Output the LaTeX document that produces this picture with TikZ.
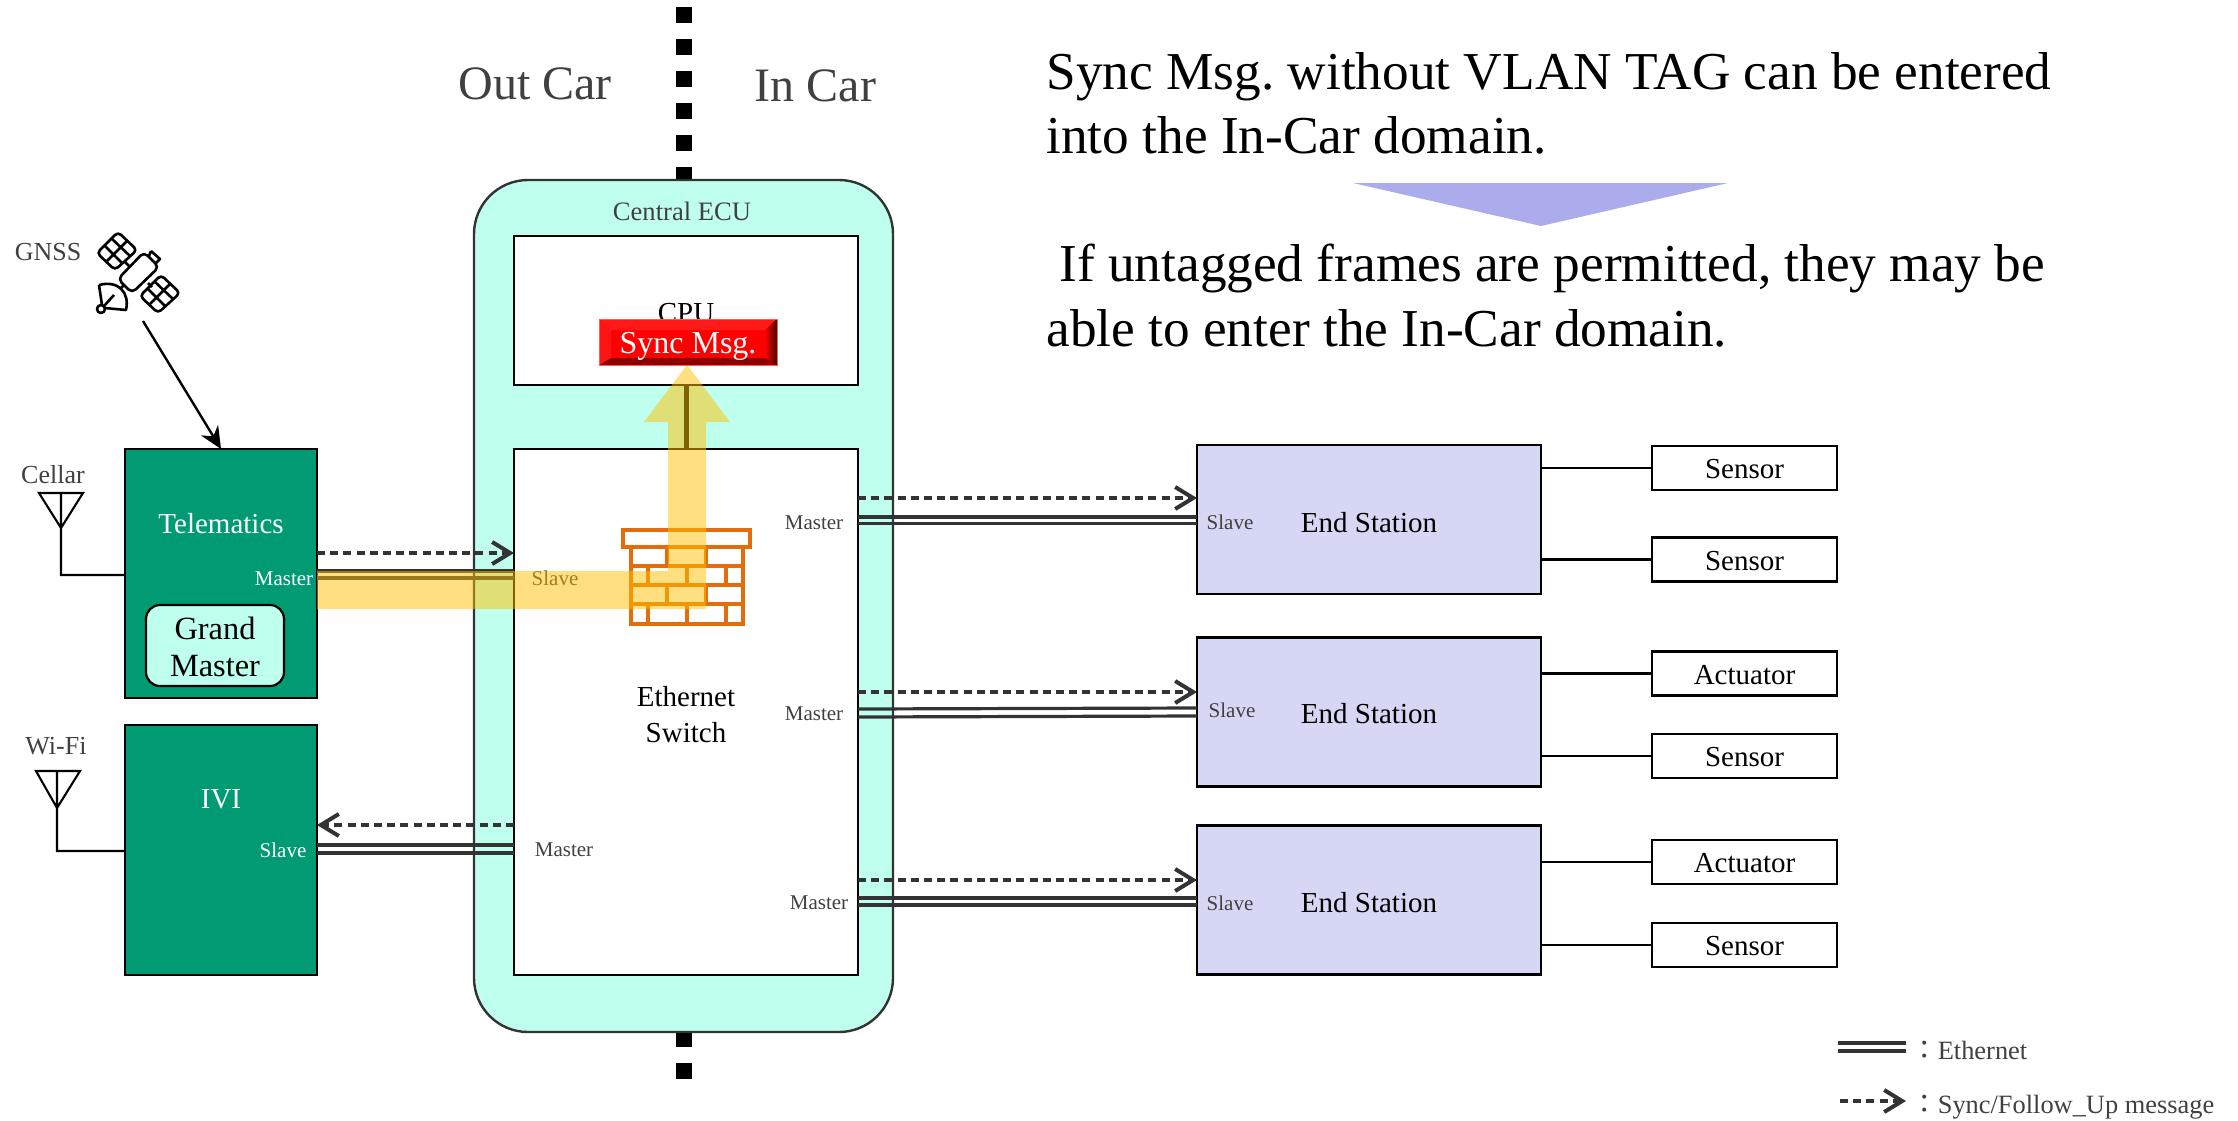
\documentclass[tikz,border=0pt]{standalone}
\usepackage{fontspec}
\setmainfont{Liberation Serif}
\newfontfamily\cjkf{Noto Sans CJK JP}
\usetikzlibrary{arrows.meta}
\definecolor{ecuc}{HTML}{BFFFEE}
\definecolor{telec}{HTML}{009B72}
\definecolor{endc}{HTML}{D6D6F5}
\definecolor{txt}{HTML}{404040}
\definecolor{lnk}{HTML}{333333}
\definecolor{fw}{HTML}{E46C0A}
\definecolor{hl}{HTML}{FFC000}
\definecolor{tric}{RGB}{172,172,236}
\newcommand{\fs}[1]{\fontsize{#1}{#1}\selectfont}
\tikzset{
  x=0.5pt,y=-0.5pt,
  sz/.style 2 args={minimum width=#1*0.5pt,minimum height=#2*0.5pt,inner sep=0pt,outer sep=0pt},
  blk/.style={draw=black,line width=1.1pt},
  green box/.style={blk,fill=telec},
  end box/.style={blk,fill=endc,sz={344}{149}},
  dev box/.style={blk,fill=white,sz={185}{44}},
  lab/.style={inner sep=0pt,text=txt,font=\fs{10.5},yshift=-0.7pt},
  mid/.style={inner sep=0pt,font=\fs{14.5},yshift=-0.7pt},
  head/.style={inner sep=0pt,anchor=base west,font=\fs{26.65},text=black},
  eth/.style={draw=lnk,line width=1.6pt},
  syncm/.style={draw=lnk,line width=2pt,dash pattern=on 4pt off 2.6pt,-{Straight Barb[length=9pt,width=11pt,line width=2pt]}},
  wire/.style={draw=black,line width=1.05pt},
  sat/.style={draw=black,line width=1.3pt,line join=round},
  brick/.style={draw=fw,line width=1.6pt},
}
\begin{document}
\frenchspacing
\begin{tikzpicture}
\useasboundingbox (0,0) rectangle (2238,1120);
% domain boundary
\coordinate (bt) at (684,7); \coordinate (bb) at (684,1079);
\draw[line width=8pt,black,dash pattern=on 8pt off 8pt] (bt) -- (bb);
% main boxes
\node[sz={419}{852},draw=lnk,line width=1.2pt,fill=ecuc,rounded corners=27pt] (ecu) at (683.5,606) {};
\node[sz={344}{149},blk,fill=white] (cpu) at (686,310.5) {};
\node[sz={344}{526},blk,fill=white] (sw) at (686,712) {};
\node[sz={192}{249},green box] (tele) at (221,573.5) {};
\node[sz={192}{250},green box] (ivi) at (221,850) {};
\node[sz={138}{81},blk,fill=ecuc,rounded corners=7pt] (gm) at (215,645.5) {};
\node[end box] (es1) at (1369,519.5) {};
\node[end box] (es2) at (1369,712) {};
\node[end box] (es3) at (1369,900) {};
\node[dev box] (s1) at (1744.5,468) {};
\node[dev box] (s2) at (1744.5,559.5) {};
\node[dev box] (s3) at (1744.5,673.5) {};
\node[dev box] (s4) at (1744.5,756) {};
\node[dev box] (s5) at (1744.5,862) {};
\node[dev box] (s6) at (1744.5,945) {};
% end station to sensor
\foreach \a/\e in {s1/es1,s2/es1,s3/es2,s4/es2,s5/es3,s6/es3}
  \draw[wire] (\a.west) -- (\a.west -| \e.east);
% CPU to switch
\draw[line width=2.5pt,black] (cpu.south) -- (sw.north);
% ethernet links
\draw[eth] (tele.east |- 0,571) -- (sw.west |- 0,571);
\draw[eth] (tele.east |- 0,578) -- (sw.west |- 0,578);
\draw[eth] (ivi.east |- 0,845) -- (sw.west |- 0,845);
\draw[eth] (ivi.east |- 0,853) -- (sw.west |- 0,853);
\draw[eth] (sw.east |- 0,517) -- (es1.west |- 0,517);
\draw[eth] (sw.east |- 0,523.5) -- (es1.west |- 0,523.5);
\draw[eth] (sw.east |- 0,709) -- (es2.west |- 0,708);
\draw[eth] (sw.east |- 0,717) -- (es2.west |- 0,716);
\draw[eth] (sw.east |- 0,898) -- (es3.west |- 0,898);
\draw[eth] (sw.east |- 0,905) -- (es3.west |- 0,905);
% sync messages
\draw[syncm] (tele.east |- 0,553) -- (sw.west |- 0,553);
\draw[syncm] (sw.west |- 0,825) -- (ivi.east |- 0,825);
\draw[syncm] (sw.east |- 0,498) -- (es1.west |- 0,498);
\draw[syncm] (sw.east |- 0,692) -- (es2.west |- 0,692);
\draw[syncm] (sw.east |- 0,880) -- (es3.west |- 0,880);
% antennas
\coordinate (a1t) at (61,528); \coordinate (a2t) at (57,808);
\draw[wire] (39,493) -- (83,493) -- (a1t) -- cycle (61,493) -- (a1t) -- (61,575) -- (tele.west |- 0,575);
\draw[wire] (36,771) -- (80,771) -- (a2t) -- cycle (57,771) -- (a2t) -- (57,851) -- (ivi.west |- 0,851);
% satellite
\foreach \dx/\dy in {0/0,43/43}{
\begin{scope}[shift={(\dx,\dy)}]
\draw[sat,rounded corners=2pt] (118,232) -- (137,250) -- (115,270) -- (97,253) -- cycle;
\draw[sat] (111,238) -- (130,256) (104,245) -- (122,263) (127,241) -- (106,262);
\end{scope}}
\draw[sat,rounded corners=2.5pt] (144,252) -- (159,267) -- (132,293) -- (118,279) -- cycle;
\draw[sat] (151,251) -- (160,259) -- (156,263) (151,251) -- (149,256);
\draw[sat] (125,262) -- (130,267) (148,283) -- (152,287) (120,289) -- (124,285);
\draw[sat] (99,285) .. controls (118,280) and (130,292) .. (126,310) -- (105,308);
\draw[sat] (99,285) -- (102,305) (114,295) -- (104,306);
\draw[sat] (101,309) circle[radius=2pt];
\coordinate (satc) at (143,321);
\draw[line width=1.2pt,black,-{Stealth[length=11pt,width=10pt]}] (satc) -- (tele.north -| 221,449);
% firewall
\node[sz={127}{17},brick,fill=white] (wall) at (686.5,538.5) {};
\node[sz={112}{77},brick,fill=white] (wbody) at (687,585.5) {};
\draw[brick] (wbody.west |- 0,566) -- (wbody.east |- 0,566) (wbody.west |- 0,585) -- (wbody.east |- 0,585) (wbody.west |- 0,604) -- (wbody.east |- 0,604);
\draw[brick] (667,547) -- (667,566) (706,547) -- (706,566) (648,566) -- (648,585) (687,566) -- (687,585) (726,566) -- (726,585)
  (667,585) -- (667,604) (706,585) -- (706,604) (648,604) -- (648,624) (687,604) -- (687,624) (726,604) -- (726,624);
% texts
\node[inner sep=0pt,text=txt,font=\fs{24}] (outc) at (535,84) {Out Car};
\node[inner sep=0pt,text=txt,font=\fs{24}] (inc) at (815.5,86) {In Car};
\node[head] (h1) at (1046,89) {Sync Msg. without VLAN TAG can be entered};
\node[head] (h2) at (1046,153) {into the In-Car domain.};
\node[head] (h3) at (1059,281) {If untagged frames are permitted, they may be};
\node[head] (h4) at (1046,346) {able to enter the In-Car domain.};
\fill[tric] (1353,183) -- (1728,183) -- (1541,226) -- cycle;
\node[lab,font=\fs{13}] (gnss) at (48,251) {GNSS};
\node[lab,font=\fs{13}] (cel) at (53,473) {Cellar};
\node[lab,font=\fs{13}] (wifi) at (56,745) {Wi-Fi};
\node[lab,font=\fs{13.3}] (cecu) at (682,210) {Central ECU};
\node[mid,text=black] (cput) at (686,312) {CPU};
\node[mid,text=white] (telet) at (221,522) {Telematics};
\node[mid,text=white] (ivit) at (221,798) {IVI};
\node[inner sep=0pt,text=black,align=center,font=\fontsize{16.2}{18.5}\selectfont] (gmt) at (215,647) {Grand\\Master};
\node[mid,text=black,align=center] (swt) at (686,713) {Ethernet\\[3.5pt]Switch};
\node[lab,text=white] (m0) at (284,577) {Master};
\node[lab] (sl0) at (555,577) {Slave};
\node[lab,text=white] (sl1) at (283,849) {Slave};
\node[lab] (m1) at (564,848) {Master};
\node[lab] (m2) at (814,521) {Master};
\node[lab] (m3) at (814,712) {Master};
\node[lab] (m4) at (819,901) {Master};
\node[lab] (sl2) at (1230,521) {Slave};
\node[lab] (sl3) at (1232,709) {Slave};
\node[lab] (sl4) at (1230,902) {Slave};
\foreach \a/\p in {e1/521,e2/712,e3/901}
  \node[mid,text=black] (\a) at (1369,\p) {End Station};
\node[mid] at (s1) {Sensor};
\node[mid] at (s2) {Sensor};
\node[mid] at (s3) {Actuator};
\node[mid] at (s4) {Sensor};
\node[mid] at (s5) {Actuator};
\node[mid] at (s6) {Sensor};
% highlight
\fill[hl,fill opacity=.5] (317,571) -- (668,571) -- (668,422) -- (644,422) -- (687,365) -- (730,422) -- (706,422) -- (706,609) -- (317,609) -- cycle;
% sync message button
\fill[red] (599,319) rectangle (777,365);
\fill[red!90!white] (599,319) -- (777,319) -- (765,330) -- (611,330) -- cycle;
\fill[red!55!black] (599,365) -- (777,365) -- (765,358) -- (611,358) -- cycle;
\shade[left color=red,right color=red!25!black] (777,319) -- (777,365) -- (765,358) -- (765,330) -- cycle;
\fill[red!92!white] (599,319) -- (599,365) -- (611,358) -- (611,330) -- cycle;
\draw[red!65!white,line width=.5pt] (599,319) rectangle (777,365);
\node[inner sep=0pt,text=white,font=\fs{16}] (sm) at (688,346) {Sync Msg.};
% legend
\coordinate (l1a) at (1838,1043); \coordinate (l1b) at (1906,1043);
\coordinate (l2a) at (1838,1051); \coordinate (l2b) at (1906,1051);
\coordinate (l3a) at (1840,1101); \coordinate (l3b) at (1906,1101);
\draw[eth] (l1a) -- (l1b);
\draw[eth] (l2a) -- (l2b);
\draw[syncm] (l3a) -- (l3b);
\node[lab,anchor=base west,font=\fs{13.2},yshift=0pt] (lg1) at (1911,1058) {{\cjkf：}Ethernet};
\node[lab,anchor=base west,font=\fs{13.2},yshift=0pt] (lg2) at (1911,1112) {{\cjkf：}Sync/Follow\_Up message};
\end{tikzpicture}
\end{document}
